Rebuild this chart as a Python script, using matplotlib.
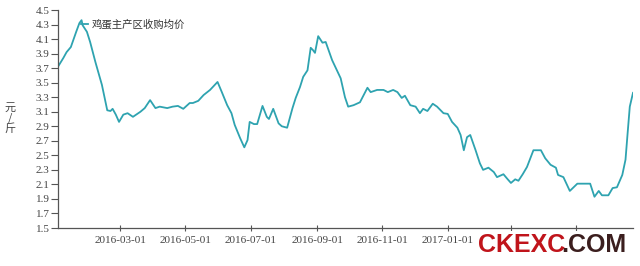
import matplotlib
matplotlib.use("Agg")
import matplotlib.pyplot as plt
from matplotlib.patches import Rectangle
import pandas as pd

plt.rcParams['font.family'] = ['Noto Sans CJK SC', 'DejaVu Sans']

dates = [
    "2016-01-03", "2016-01-08", "2016-01-11", "2016-01-15", "2016-01-20", "2016-01-23", "2016-01-25",
    "2016-01-26", "2016-01-30", "2016-02-02", "2016-02-07", "2016-02-13", "2016-02-18", "2016-02-21",
    "2016-02-23", "2016-02-26", "2016-02-29", "2016-03-04", "2016-03-08", "2016-03-13", "2016-03-20",
    "2016-03-24", "2016-03-29", "2016-04-03", "2016-04-07", "2016-04-14", "2016-04-19", "2016-04-24",
    "2016-04-29", "2016-05-05", "2016-05-08", "2016-05-13", "2016-05-18", "2016-05-24", "2016-05-31",
    "2016-06-04", "2016-06-09", "2016-06-13", "2016-06-16", "2016-06-21", "2016-06-25", "2016-06-28",
    "2016-06-30", "2016-07-04", "2016-07-07", "2016-07-12", "2016-07-16", "2016-07-18", "2016-07-22",
    "2016-07-27", "2016-07-30", "2016-08-04", "2016-08-09", "2016-08-12", "2016-08-16", "2016-08-19",
    "2016-08-23", "2016-08-26", "2016-08-28", "2016-08-30", "2016-09-02", "2016-09-06", "2016-09-09",
    "2016-09-15", "2016-09-23", "2016-09-27", "2016-09-30", "2016-10-05", "2016-10-11", "2016-10-18",
    "2016-10-21", "2016-10-27", "2016-11-02", "2016-11-06", "2016-11-11", "2016-11-15", "2016-11-19",
    "2016-11-22", "2016-11-27", "2016-12-02", "2016-12-06", "2016-12-09", "2016-12-13", "2016-12-18",
    "2016-12-22", "2016-12-28", "2017-01-01", "2017-01-05", "2017-01-10", "2017-01-13", "2017-01-16",
    "2017-01-19", "2017-01-22", "2017-01-27", "2017-01-31", "2017-02-03", "2017-02-08", "2017-02-13",
    "2017-02-16", "2017-02-22", "2017-02-26", "2017-03-01", "2017-03-05", "2017-03-08", "2017-03-12",
    "2017-03-16", "2017-03-22", "2017-03-29", "2017-04-02", "2017-04-07", "2017-04-12", "2017-04-14",
    "2017-04-19", "2017-04-25", "2017-05-02", "2017-05-14", "2017-05-18", "2017-05-22", "2017-05-25",
    "2017-05-31", "2017-06-04", "2017-06-08", "2017-06-13", "2017-06-16", "2017-06-18", "2017-06-20",
    "2017-06-23",
]

prices = [
    3.72, 3.84, 3.92, 3.99, 4.20, 4.32, 4.36,
    4.29, 4.20, 4.06, 3.78, 3.47, 3.12, 3.11,
    3.14, 3.06, 2.96, 3.06, 3.08, 3.03, 3.10,
    3.15, 3.26, 3.15, 3.17, 3.15, 3.17, 3.18,
    3.14, 3.22, 3.22, 3.25, 3.33, 3.40, 3.51,
    3.37, 3.19, 3.08, 2.92, 2.74, 2.61, 2.71,
    2.96, 2.93, 2.93, 3.18, 3.03, 3.00, 3.14,
    2.94, 2.90, 2.88, 3.15, 3.29, 3.44, 3.58,
    3.67, 3.98, 3.95, 3.91, 4.14, 4.05, 4.06,
    3.81, 3.56, 3.30, 3.17, 3.19, 3.23, 3.43,
    3.37, 3.40, 3.40, 3.37, 3.40, 3.37, 3.29,
    3.32, 3.19, 3.17, 3.08, 3.14, 3.11, 3.21,
    3.17, 3.08, 3.07, 2.96, 2.88, 2.78, 2.57,
    2.75, 2.78, 2.57, 2.39, 2.30, 2.33, 2.27,
    2.20, 2.24, 2.17, 2.12, 2.17, 2.15, 2.24,
    2.34, 2.57, 2.57, 2.46, 2.37, 2.33, 2.23,
    2.20, 2.01, 2.11, 2.11, 1.93, 2.01, 1.95,
    1.95, 2.05, 2.06, 2.23, 2.44, 2.81, 3.17,
    3.36,
]

series_name = "鸡蛋主产区收购均价"
y_label = "元\n/\n斤"
y_ticks = [1.5, 1.7, 1.9, 2.1, 2.3, 2.5, 2.7, 2.9, 3.1, 3.3, 3.5, 3.7, 3.9, 4.1, 4.3, 4.5]
x_ticks = ["2016-03-01", "2016-05-01", "2016-07-01", "2016-09-01", "2016-11-01",
           "2017-01-01", "2017-03-01", "2017-05-01"]
# labels hidden behind the watermark in the reference
x_tick_labels = ["2016-03-01", "2016-05-01", "2016-07-01", "2016-09-01", "2016-11-01",
                 "2017-01-01", "", ""]

d = pd.to_datetime(dates)

fig = plt.figure(figsize=(6.4, 2.66), dpi=100)
ax = fig.add_axes([58/640, 1-228/266, (633-58)/640, (228-10)/266])

ax.plot(d, prices, color='#2ea3b0', lw=1.3, label=series_name, solid_joinstyle='round')

ax.set_xlim(d[0], d[-1])
ax.set_ylim(1.5, 4.5)
ax.set_yticks(y_ticks)
ax.set_yticklabels([f"{v:.1f}" for v in y_ticks])
ax.set_xticks(pd.to_datetime(x_ticks))
ax.set_xticklabels(x_tick_labels)

for s in ['top', 'right']:
    ax.spines[s].set_visible(False)
for s in ['left', 'bottom']:
    ax.spines[s].set_color('#555555')
    ax.spines[s].set_linewidth(0.9)

ax.tick_params(axis='y', direction='out', length=5, width=0.8, color='#555555', pad=1,
               labelcolor='#444444')
ax.tick_params(axis='x', direction='inout', length=4, width=0.8, color='#555555', pad=4,
               labelcolor='#444444')
for lab in ax.get_yticklabels() + ax.get_xticklabels():
    lab.set_fontfamily(['Liberation Serif', 'DejaVu Serif'])
    lab.set_fontsize(8)

fig.text(10/640, 1-118/266, y_label, ha='center', va='center', fontsize=8,
         color='#444444', linespacing=1.0)

leg = ax.legend(loc='center left', bbox_to_anchor=(0.040, 0.936), frameon=False,
                handlelength=0.7, handletextpad=0.35, borderpad=0, borderaxespad=0,
                prop={'size': 7.5})
for t in leg.get_texts():
    t.set_color('#333333')

# watermark
fig.patches.append(Rectangle((476/640, 1-262/266), (632-476)/640, (262-231)/266,
                             transform=fig.transFigure, facecolor='white',
                             edgecolor='none', zorder=5))
fig.text(478/640, 1-245/266, "CKEXC", color='#c0141b', fontsize=18, fontweight='bold',
         family=['Liberation Sans', 'DejaVu Sans'], ha='left', va='center', zorder=6)
fig.text(626/640, 1-245/266, ".COM", color='#3b1e1e', fontsize=18, fontweight='bold',
         family=['Liberation Sans', 'DejaVu Sans'], ha='right', va='center', zorder=6)

fig.savefig("out.png", dpi=100, facecolor='white')
